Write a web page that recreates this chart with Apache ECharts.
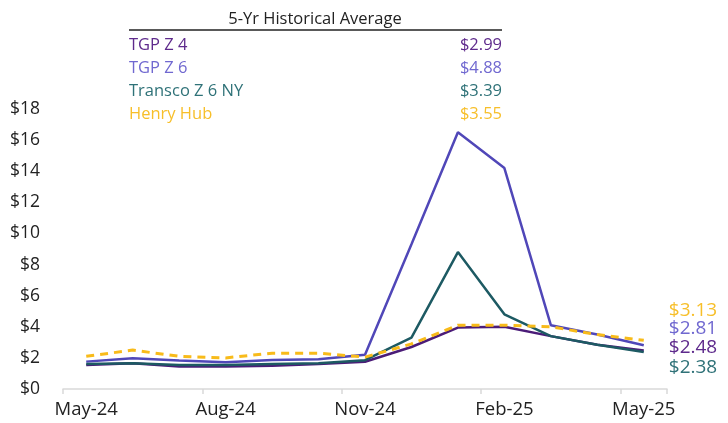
<!DOCTYPE html>
<html>
<head>
<meta charset="utf-8">
<script src="https://cdn.jsdelivr.net/npm/echarts@6/dist/echarts.min.js"></script>
<style>
  html, body { margin: 0; padding: 0; background: #fff; }
  #chart { width: 728px; height: 423px; }
</style>
</head>
<body>
<div id="chart"></div>
<script>
// monthly points, May-24 .. May-25
const months = ["May-24", "Jun-24", "Jul-24", "Aug-24", "Sep-24", "Oct-24", "Nov-24",
  "Dec-24", "Jan-25", "Feb-25", "Mar-25", "Apr-25", "May-25"];

const tgpZ4 = [1.55, 1.65, 1.45, 1.45, 1.5, 1.6, 1.75, 2.7, 3.95, 4.0, 3.4, 2.85, 2.48];
const tgpZ6 = [1.76, 1.98, 1.83, 1.72, 1.87, 1.92, 2.2, 9.3, 16.5, 14.2, 4.1, 3.5, 2.81];
const transco = [1.6, 1.65, 1.55, 1.55, 1.6, 1.65, 1.85, 3.3, 8.8, 4.8, 3.4, 2.85, 2.38];
const henryHub = [2.1, 2.5, 2.1, 2.0, 2.3, 2.3, 2.05, 2.9, 4.1, 4.1, 4.0, 3.5, 3.13];

const seriesNames = ["TGP Z 4", "TGP Z 6", "Transco Z 6 NY", "Henry Hub"];
const histAvg = ["$2.99", "$4.88", "$3.39", "$3.55"];
const lineColors = ["#4b1c78", "#5047b8", "#1d5a63", "#f8bb1a"];
const textColors = ["#5e2a8c", "#7068d0", "#2f7278", "#f7bf2a"];

const FONT = "'Open Sans', sans-serif";

const chart = echarts.init(document.getElementById("chart"));

function lineSeries(i, data, dy, dashed) {
  return {
    name: seriesNames[i],
    type: "line",
    data: data,
    symbol: "none",
    z: dashed ? 3 : 2,
    lineStyle: {
      color: lineColors[i],
      width: dashed ? 3 : 2.5,
      type: dashed ? [8, 6] : "solid",
    },
    endLabel: {
      show: true,
      formatter: (p) => "$" + p.value.toFixed(2),
      color: textColors[i],
      fontFamily: FONT,
      fontSize: 19,
      offset: [17, dy],
    },
  };
}

// legend table (5-yr averages)
const tableItems = [
  {
    type: "text",
    x: 315,
    y: 19,
    style: { text: "5-Yr Historical Average", fill: "#222", font: "16.5px " + FONT, align: "center", verticalAlign: "middle" },
  },
  {
    type: "line",
    shape: { x1: 129, y1: 30, x2: 502, y2: 30 },
    style: { stroke: "#222", lineWidth: 1.5 },
  },
];
seriesNames.forEach((n, i) => {
  const y = 45 + i * 23;
  tableItems.push({
    type: "text",
    x: 129,
    y: y,
    style: { text: n, fill: textColors[i], font: "16.5px " + FONT, verticalAlign: "middle" },
  });
  tableItems.push({
    type: "text",
    x: 502,
    y: y,
    style: { text: histAvg[i], fill: textColors[i], font: "16.5px " + FONT, align: "right", verticalAlign: "middle" },
  });
});

chart.setOption({
  animation: false,
  grid: { left: 63, right: 61, top: 109, bottom: 34, containLabel: false },
  xAxis: {
    type: "category",
    data: months,
    boundaryGap: true,
    axisLine: { lineStyle: { color: "#d9d9d9", width: 1.5 } },
    axisTick: { show: true, interval: 2, length: 5, lineStyle: { color: "#d9d9d9", width: 1.5 } },
    axisLabel: { interval: 2, color: "#222", fontFamily: FONT, fontSize: 18.5, margin: 11 },
  },
  yAxis: {
    type: "value",
    min: 0,
    max: 18,
    interval: 2,
    axisLine: { show: false },
    axisTick: { show: false },
    splitLine: { show: false },
    axisLabel: { formatter: "${value}", color: "#222", fontFamily: FONT, fontSize: 17.5, margin: 23 },
  },
  graphic: tableItems,
  series: [
    lineSeries(0, tgpZ4, -3, false),
    lineSeries(1, tgpZ6, -17, false),
    lineSeries(2, transco, 16, false),
    lineSeries(3, henryHub, -30, true),
  ],
});
</script>
</body>
</html>
